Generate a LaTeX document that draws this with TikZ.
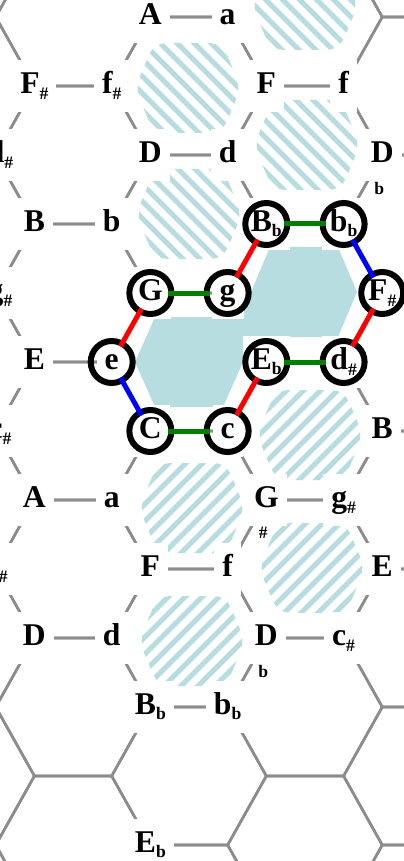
\documentclass[tikz,border=0pt]{standalone}
\usepackage{fontspec}
\setmainfont{Liberation Serif}
\usepackage{tikz}
\definecolor{tngrid}{HTML}{8C8C8C}
\definecolor{tnshade}{HTML}{B7DDE1}
\definecolor{tnred}{HTML}{FF0000}
\definecolor{tngreen}{HTML}{008000}
\definecolor{tnblue}{HTML}{0000FF}
\newcommand{\chordfont}{\fontsize{22.5}{24}\selectfont\bfseries}
\newcommand{\accfont}{\fontsize{12.5}{13}\selectfont\bfseries}
\newcommand{\shp}{\raisebox{-4.3pt}{\accfont\#}}
\newcommand{\flt}{\raisebox{-3.5pt}{\accfont b}}
% hexagon: centre x, centre y, half width, half top edge, half height
\newcommand{\hexpath}[5]{(#1-#3,#2) -- (#1-#4,#2-#5) -- (#1+#4,#2-#5) -- (#1+#3,#2) -- (#1+#4,#2+#5) -- (#1-#4,#2+#5) -- cycle}
% striped cell: centre x, centre y, slope sign
\newcommand{\hatchhex}[3]{%
  \begin{scope}
    \clip[rounded corners=3mm] \hexpath{#1}{#2}{53}{34}{45};
    \foreach \s in {-102,-85,...,102}
      \draw[stripe] ({#1+\s-60},{#2-60*(#3)}) -- ({#1+\s+60},{#2+60*(#3)});
  \end{scope}}

\begin{document}
\begin{tikzpicture}[x=0.25mm,y=-0.25mm,
  gridline/.style={draw=tngrid,line width=0.65mm,line join=round},
  stripe/.style={draw=tnshade,line width=1.3mm},
  chord/.style={fill=white,font=\chordfont,inner xsep=2mm,inner ysep=0pt,
                minimum height=13mm,text height=15pt,text depth=4pt},
  lowacc/.style={label={[font=\accfont,inner sep=0pt,label distance=0.2mm,xshift=-0.75mm]below:#1}},
  ring/.style={draw=black,line width=1.5mm},
  rel/.style={line width=1.25mm,shorten <=4.5mm,shorten >=4.5mm}
]
\useasboundingbox (0,0) rectangle (404,861);
\clip (0,0) rectangle (404,861);
\fill[white] (0,0) rectangle (404,861);

% grid
\foreach \j in {-2,...,2}{
  \foreach \k in {-4,...,5}{
    \pgfmathsetmacro\cx{189+115.95*\j}
    \pgfmathsetmacro\cy{362+69*\j+138*\k}
    \draw[gridline] \hexpath{\cx}{\cy}{77.3}{38.65}{69};
  }
}

% cells G and Bb
\fill[tnshade] (135,362) -- (155,317) -- (223,317) -- (251,292) -- (270,247) -- (338,247)
  -- (357,292) -- (338,337) -- (270,337) -- (243,362) -- (223,407) -- (155,407) -- cycle;

% striped cells
\hatchhex{305}{5}{1}
\hatchhex{188}{88}{1}
\hatchhex{307}{145}{1}
\hatchhex{189}{214}{1}
\hatchhex{310}{435}{-1}
\hatchhex{192}{508}{-1}
\hatchhex{312}{568}{-1}
\hatchhex{192}{641}{-1}

% chords
\node[chord] (A1) at (150.35,17) {A};
\node[chord] (a1) at (227.65,17) {a};
\node[chord] (D1) at (150.35,155) {D};
\node[chord] (d1) at (227.65,155) {d};
\node[chord] (G) at (150.35,293) {G};
\node[chord] (g) at (227.65,293) {g};
\node[chord] (C) at (150.35,431) {C};
\node[chord] (c) at (227.65,431) {c};
\node[chord] (F2) at (150.35,569) {F};
\node[chord] (f2) at (227.65,569) {f};
\node[chord] (Bb2) at (150.35,707) {B\flt};
\node[chord] (bb2) at (227.65,707) {b\flt};
\node[chord] (Eb2) at (150.35,845) {E\flt};

\node[chord] (Fs1) at (34.4,86) {F\shp};
\node[chord] (fs1) at (111.7,86) {f\shp};
\node[chord] (B1) at (34.4,224) {B};
\node[chord] (b1) at (111.7,224) {b};
\node[chord] (E) at (34.4,362) {E};
\node[chord] (e) at (111.7,362) {e};
\node[chord] (A2) at (34.4,500) {A};
\node[chord] (a2) at (111.7,500) {a};
\node[chord] (D2) at (34.4,638) {D};
\node[chord] (d2) at (111.7,638) {d};

\node[chord] (F1) at (266.3,86) {F};
\node[chord] (f1) at (343.6,86) {f};
\node[chord] (Bb) at (266.3,224) {B\flt};
\node[chord] (bb) at (343.6,224) {b\flt};
\node[chord] (Eb) at (266.3,362) {E\flt};
\node[chord] (ds) at (343.6,362) {d\shp};
\node[chord,lowacc=\#] (Gs) at (266.3,500) {G};
\node[chord] (gs) at (343.6,500) {g\shp};
\node[chord,lowacc=b] (Db2) at (266.3,638) {D};
\node[chord] (cs) at (343.6,638) {c\shp};

\node[chord,lowacc=b] (Db1) at (382.25,155) {D};
\node[chord] (Fs) at (382.25,293) {F\shp};
\node[chord] (B2) at (382.25,431) {B};
\node[chord] (E2) at (382.25,569) {E};

\node[chord] (ds1) at (0,155) {d\shp};
\node[chord] (gs1) at (0,293) {g\shp};
\node[chord] (cs1) at (0,431) {c\shp};
\node[chord] (fs2) at (-2,569) {f\shp};

% the cycle
\foreach \n in {G,g,e,C,c,Eb,ds,Fs,bb,Bb}
  \draw[ring] (\n.center) circle[radius=5.25mm];

\draw[rel,tnred] (G.center) -- (e.center);
\draw[rel,tnred] (Bb.center) -- (g.center);
\draw[rel,tnred] (Fs.center) -- (ds.center);
\draw[rel,tnred] (Eb.center) -- (c.center);
\draw[rel,tngreen] (G.center) -- (g.center);
\draw[rel,tngreen] (Bb.center) -- (bb.center);
\draw[rel,tngreen] (Eb.center) -- (ds.center);
\draw[rel,tngreen] (C.center) -- (c.center);
\draw[rel,tnblue] (e.center) -- (C.center);
\draw[rel,tnblue] (bb.center) -- (Fs.center);
\end{tikzpicture}
\end{document}
